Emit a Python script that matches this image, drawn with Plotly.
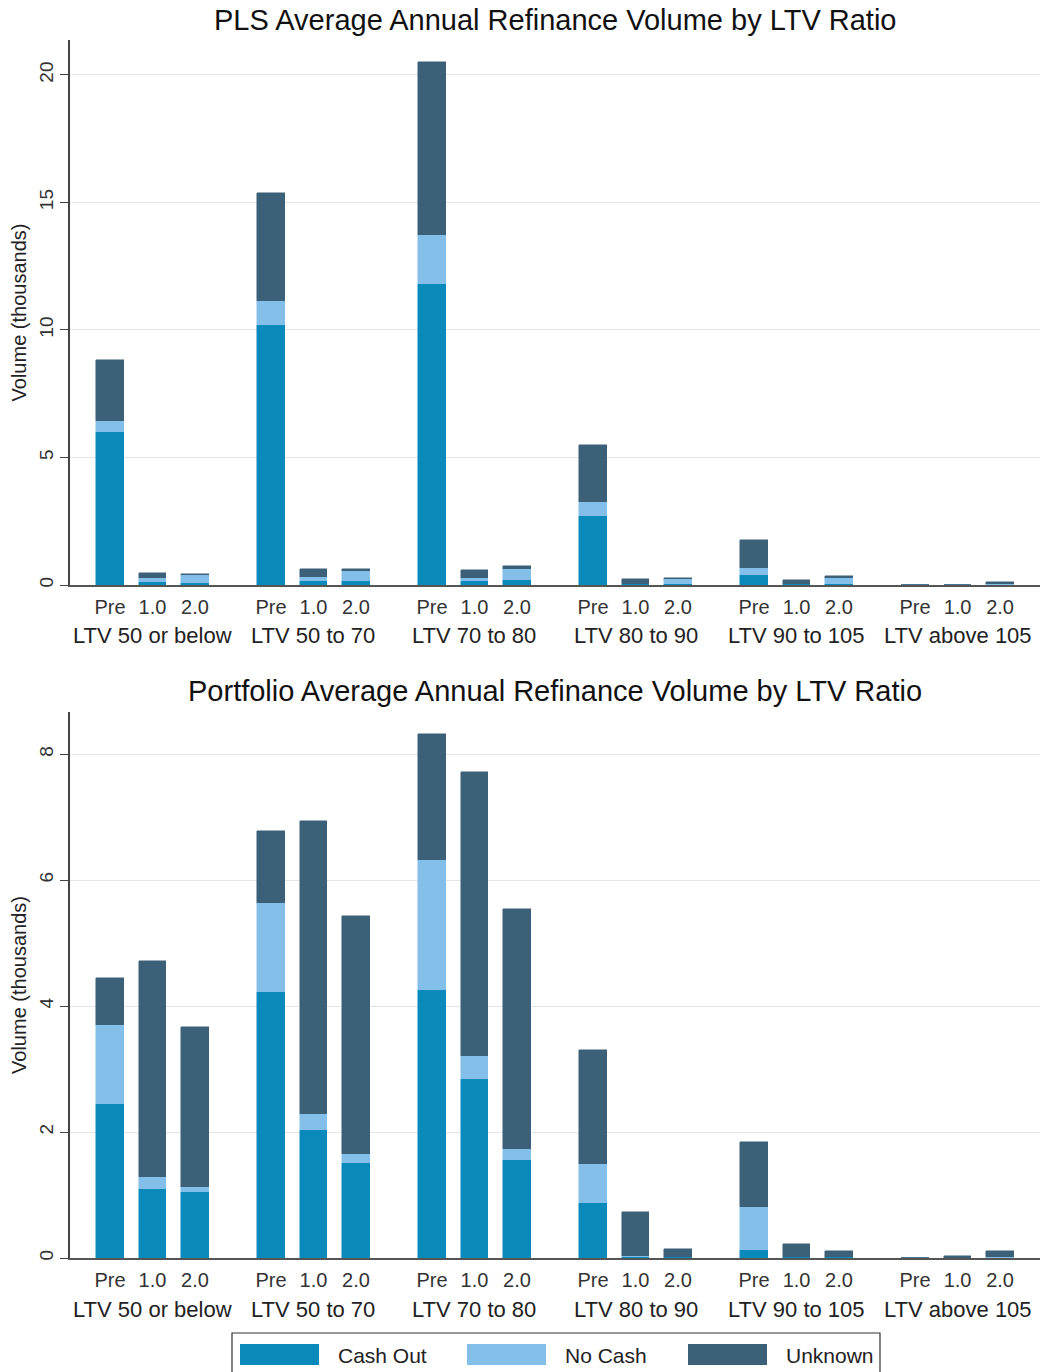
import plotly.graph_objects as go
from plotly.subplots import make_subplots

groups = ['LTV 50 or below', 'LTV 50 to 70', 'LTV 70 to 80',
          'LTV 80 to 90', 'LTV 90 to 105', 'LTV above 105']
periods = ['Pre', '1.0', '2.0']

# PLS volumes (thousands), one value per group/period bar
pls_cash = [6.00, 0.13, 0.09, 10.20, 0.14, 0.14, 11.80, 0.17, 0.20,
            2.70, 0.03, 0.03, 0.39, 0.02, 0.02, 0.00, 0.00, 0.01]
pls_nocash = [0.43, 0.16, 0.30, 0.94, 0.19, 0.40, 1.93, 0.10, 0.43,
              0.55, 0.02, 0.22, 0.26, 0.02, 0.27, 0.00, 0.00, 0.03]
pls_unknown = [2.39, 0.19, 0.05, 4.23, 0.30, 0.09, 6.77, 0.32, 0.10,
               2.24, 0.19, 0.04, 1.11, 0.14, 0.05, 0.00, 0.00, 0.09]

# Portfolio volumes (thousands)
port_cash = [2.44, 1.10, 1.05, 4.23, 2.03, 1.51, 4.25, 2.85, 1.55,
             0.87, 0.02, 0.01, 0.13, 0.01, 0.01, 0.00, 0.00, 0.00]
port_nocash = [1.26, 0.19, 0.08, 1.40, 0.26, 0.14, 2.07, 0.36, 0.18,
               0.62, 0.01, 0.01, 0.68, 0.01, 0.01, 0.00, 0.00, 0.01]
port_unknown = [0.74, 3.43, 2.54, 1.15, 4.65, 3.78, 2.00, 4.50, 3.81,
                1.81, 0.70, 0.13, 1.03, 0.21, 0.09, 0.00, 0.03, 0.10]

series = ['Cash Out', 'No Cash', 'Unknown']
colors = ['#0a89bb', '#83bfe8', '#3d6079']

FONT = 'Arial, Liberation Sans, sans-serif'
W, H = 1041, 1372
ML, MR, MT, MB = 70, 1, 40, 1372 - 1258
PW, PH = W - ML - MR, H - MT - MB

GROUP_STEP = 3.79
xpos = [g * GROUP_STEP + j for g in range(len(groups)) for j in range(len(periods))]
xlabels = [p for g in groups for p in periods]
centers = [g * GROUP_STEP + 1 for g in range(len(groups))]


def py(pix):
    # screen pixel row -> paper y
    return (H - MB - pix) / PH


def px(pix):
    return (pix - ML) / PW


fig = make_subplots(rows=2, cols=1, vertical_spacing=0.1)

panels = [(pls_cash, pls_nocash, pls_unknown), (port_cash, port_nocash, port_unknown)]
for row, vals in enumerate(panels, start=1):
    for name, col, v in zip(series, colors, vals):
        fig.add_trace(go.Bar(x=xpos, y=v, name=name, width=0.64,
                             marker=dict(color=col, line=dict(color=col, width=0.5)),
                             showlegend=False), row=row, col=1)

fig.update_layout(barmode='stack', width=W, height=H,
                  margin=dict(l=ML, r=MR, t=MT, b=MB),
                  plot_bgcolor='white', paper_bgcolor='white',
                  font=dict(family=FONT, color='#222'), bargap=0)

doms = [(py(585), 1.0), (0.0, py(712))]
yranges = [[0, 21.37], [0, 8.67]]
ydtick = [5, 2]
for i in range(2):
    xa = 'xaxis' if i == 0 else 'xaxis2'
    ya = 'yaxis' if i == 0 else 'yaxis2'
    fig.update_layout({
        xa: dict(range=[-0.94, 5 * GROUP_STEP + 2 + 0.94], tickmode='array',
                 tickvals=xpos, ticktext=xlabels, showgrid=False, zeroline=False,
                 showline=True, linecolor='#555', linewidth=1.5,
                 ticks='outside', ticklen=3, tickcolor='white',
                 tickfont=dict(size=20, color='#333')),
        ya: dict(domain=list(doms[i]), range=yranges[i], dtick=ydtick[i],
                 showgrid=True, gridcolor='#e4e4e4', gridwidth=1, zeroline=False,
                 showline=True, linecolor='#444', linewidth=1.5,
                 ticks='outside', ticklen=8, tickcolor='#444', tickangle=-90,
                 tickfont=dict(size=19, color='#333'),
                 title=dict(text='Volume (thousands)', font=dict(size=20, color='#222'),
                            standoff=4)),
    })

annotations = []
titles = ['PLS Average Annual Refinance Volume by LTV Ratio',
          'Portfolio Average Annual Refinance Volume by LTV Ratio']
title_y = [20, 691]
for t, ty in zip(titles, title_y):
    annotations.append(dict(text=t, x=px(555), y=py(ty), xref='paper', yref='paper',
                            showarrow=False, xanchor='center', yanchor='middle',
                            font=dict(size=29, color='#111')))

for i, (xr, yr) in enumerate([('x', 'y domain'), ('x2', 'y2 domain')]):
    for c, g in zip(centers, groups):
        annotations.append(dict(text=g, x=c, y=0, xref=xr, yref=yr, yshift=-51,
                                showarrow=False, xanchor='center', yanchor='middle',
                                font=dict(size=22, color='#222')))

# legend box drawn as shapes + labels
shapes = [dict(type='rect', xref='paper', yref='paper', x0=px(232), x1=px(880),
               y0=py(1380), y1=py(1333), line=dict(color='#333', width=1.2),
               fillcolor='white')]
sw_x = [240, 467, 688]
for name, col, sx in zip(series, colors, sw_x):
    shapes.append(dict(type='rect', xref='paper', yref='paper', x0=px(sx), x1=px(sx + 79),
                       y0=py(1365), y1=py(1344), line=dict(width=0), fillcolor=col))
    annotations.append(dict(text=name, x=px(sx + 96), y=py(1355), xref='paper', yref='paper',
                            showarrow=False, xanchor='left', yanchor='middle',
                            font=dict(size=21, color='#222')))

fig.update_layout(annotations=annotations, shapes=shapes)

# drop the default page margin so the figure sits flush with the window
fig.write_html('out.html', config={'displayModeBar': False},
               post_script="document.body.style.margin='0';")
